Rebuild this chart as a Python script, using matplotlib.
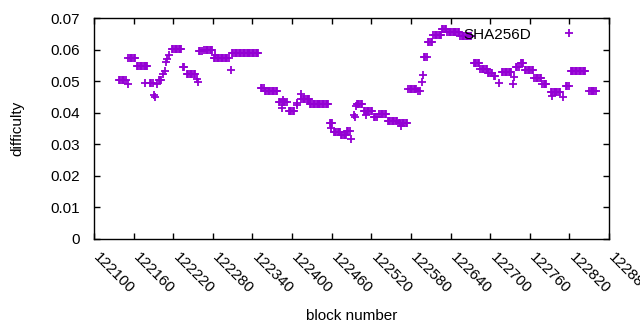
import matplotlib
matplotlib.use('Agg')
import matplotlib.pyplot as plt
import numpy as np
from matplotlib.lines import Line2D
from matplotlib.transforms import ScaledTranslation

plt.rcParams['font.family'] = ['Liberation Sans', 'DejaVu Sans']

# difficulty runs: first block, last block, value
run_start = [122138, 122152, 122165, 122185, 122198, 122214, 122218, 122235,
             122241, 122259, 122267, 122282, 122309, 122353, 122359, 122380,
             122395, 122414, 122427, 122457, 122463, 122474, 122483, 122498,
             122509, 122524, 122532, 122545, 122562, 122576, 122591, 122600,
             122606, 122614, 122627, 122635, 122655, 122675, 122685, 122697,
             122706, 122718, 122739, 122746, 122753, 122767, 122779, 122792,
             122815, 122822, 122850]
run_end = [122149, 122162, 122182, 122189, 122203, 122215, 122233, 122238,
           122253, 122264, 122279, 122305, 122350, 122357, 122377, 122392,
           122404, 122426, 122455, 122461, 122474, 122482, 122488, 122506,
           122521, 122529, 122542, 122560, 122574, 122588, 122594, 122604,
           122612, 122626, 122633, 122653, 122672, 122683, 122695, 122704,
           122709, 122732, 122744, 122751, 122765, 122777, 122786, 122807,
           122819, 122845, 122860]
run_diff = [0.0505, 0.0572, 0.0549, 0.0494, 0.0505, 0.0583, 0.0602, 0.0545,
            0.0524, 0.0594, 0.0600, 0.0573, 0.0590, 0.0477, 0.0469, 0.0433,
            0.0405, 0.0442, 0.0429, 0.0367, 0.0339, 0.0328, 0.0342, 0.0427,
            0.0406, 0.0387, 0.0395, 0.0375, 0.0369, 0.0474, 0.0468, 0.0578,
            0.0624, 0.0647, 0.0666, 0.0657, 0.0643, 0.0559, 0.0537, 0.0527,
            0.0515, 0.0528, 0.0545, 0.0557, 0.0534, 0.0511, 0.0492, 0.0467,
            0.0486, 0.0532, 0.0470]

# lone blocks
single_block = [122151, 122178, 122191, 122193, 122195, 122205, 122208, 122209,
                122211, 122256, 122257, 122283, 122307, 122384, 122386, 122407,
                122408, 122414, 122459, 122490, 122494, 122495, 122497, 122512,
                122565, 122597, 122598, 122713, 122734, 122736, 122794, 122810]
single_diff = [0.0491, 0.0494, 0.0456, 0.0450, 0.0490, 0.0522, 0.0532, 0.0560,
               0.0570, 0.0507, 0.0497, 0.0583, 0.0535, 0.0415, 0.0440, 0.0424,
               0.0432, 0.0459, 0.0352, 0.0317, 0.0393, 0.0386, 0.0421, 0.0393,
               0.0357, 0.0497, 0.0520, 0.0494, 0.0490, 0.0513, 0.0453, 0.0450]

xticks = np.arange(122100, 122881, 60)
yticks = [0, 0.01, 0.02, 0.03, 0.04, 0.05, 0.06, 0.07]
ytick_labels = ['0', '0.01', '0.02', '0.03', '0.04', '0.05', '0.06', '0.07']

blocks = []
diffs = []
for s, e, v in zip(run_start, run_end, run_diff):
    b = np.arange(s, e + 1, 2)
    blocks.extend(b)
    diffs.extend([v] * len(b))
blocks.extend(single_block)
diffs.extend(single_diff)

col = '#9400d3'
fig = plt.figure(figsize=(6.4, 3.3), dpi=100)
ax = fig.add_axes([94 / 640, 1 - 239 / 330, 515 / 640, 221 / 330])
ax.plot(blocks, diffs, linestyle='none', marker='+', color=col,
        markersize=5.5, markeredgewidth=1.3)

ax.set_xlim(122100, 122880)
ax.set_ylim(0, 0.07)
ax.set_xticks(xticks)
ax.set_xticklabels([str(t) for t in xticks], rotation=-45, ha='left', va='top',
                   rotation_mode='anchor', fontsize=11)
ax.set_yticks(yticks)
ax.set_yticklabels(ytick_labels, fontsize=11)
ax.tick_params(direction='in', top=True, right=True, length=4, width=1)
ax.tick_params(axis='y', pad=10)
ax.tick_params(axis='x', pad=8)
# gnuplot puts the rotated labels a bit right of the tick
shift = ScaledTranslation(7 / 100, 0, fig.dpi_scale_trans)
for lbl in ax.get_xticklabels():
    lbl.set_transform(lbl.get_transform() + shift)
for sp in ax.spines.values():
    sp.set_linewidth(1)

ax.set_xlabel('block number', fontsize=11)
ax.xaxis.set_label_coords(0.5, -0.315)
ax.set_ylabel('difficulty', fontsize=11)
ax.yaxis.set_label_coords(-0.136, 0.5)

h = Line2D([], [], linestyle='none', marker='+', color=col,
           markersize=5.5, markeredgewidth=1.3)
ax.legend([h], ['SHA256D'], loc='upper right', bbox_to_anchor=(0.981, 0.957),
          frameon=False, markerfirst=False, handlelength=4, handletextpad=0.45,
          borderpad=0, borderaxespad=0, fontsize=11)

fig.savefig('out.png', dpi=100)
